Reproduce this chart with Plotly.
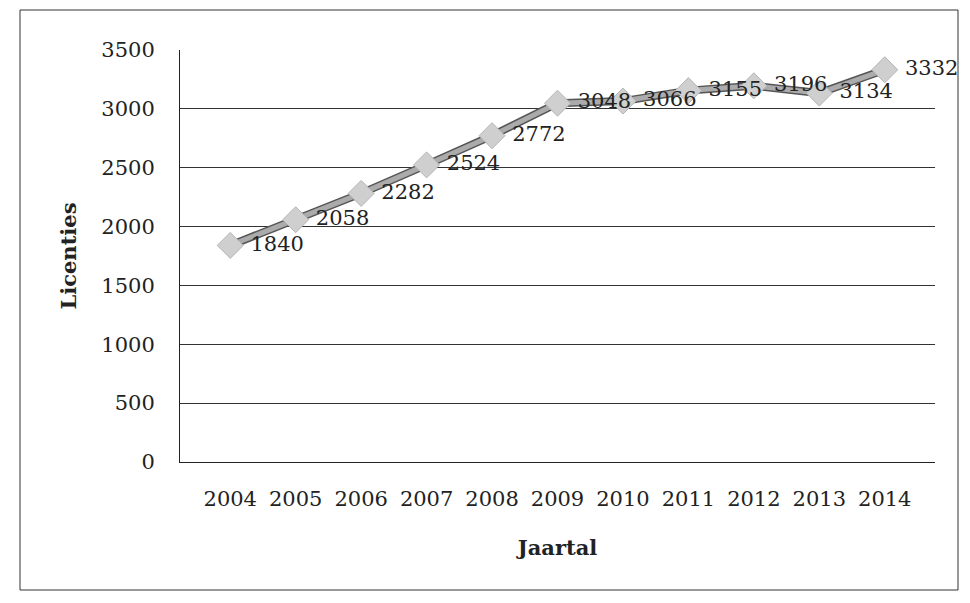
import plotly.graph_objects as go

years = ["2004", "2005", "2006", "2007", "2008", "2009", "2010", "2011", "2012", "2013", "2014"]
licenties = [1840, 2058, 2282, 2524, 2772, 3048, 3066, 3155, 3196, 3134, 3332]
y_ticks = [0, 500, 1000, 1500, 2000, 2500, 3000, 3500]

FONT = "DejaVu Serif"

fig = go.Figure()
fig.add_trace(go.Scatter(
    x=years, y=licenties, mode="lines",
    line=dict(color="#555555", width=8),
    hoverinfo="skip", showlegend=False,
))
fig.add_trace(go.Scatter(
    x=years, y=licenties, mode="lines+markers+text",
    line=dict(color="#ababab", width=5),
    marker=dict(symbol="diamond", size=20, color="#cfcfcf",
                line=dict(color="#b5b5b5", width=1)),
    text=[" " + str(v) for v in licenties],
    textposition="middle right",
    textfont=dict(family=FONT, size=21, color="#222222"),
    cliponaxis=False,
    showlegend=False,
))

PW, PH = 755, 412
L, T = 172, 42

fig.update_layout(
    width=962, height=595,
    margin=dict(l=L, r=962 - L - PW, t=T, b=595 - T - PH),
    paper_bgcolor="white", plot_bgcolor="white",
    font=dict(family=FONT, color="#222222"),
    xaxis=dict(
        type="category", showgrid=False,
        showline=True, linecolor="#222222", linewidth=1,
        ticks="", tickfont=dict(family=FONT, size=21),
        ticklabelstandoff=18,
        title=dict(text="<b>Jaartal</b>", font=dict(family=FONT, size=21), standoff=30),
    ),
    yaxis=dict(
        range=[0, 3500], tickvals=y_ticks,
        showgrid=True, gridcolor="#333333", gridwidth=1,
        showline=True, linecolor="#222222", linewidth=1,
        zeroline=False, ticks="",
        tickfont=dict(family=FONT, size=21),
        ticklabelstandoff=20,
        title=dict(text="<b>Licenties</b>", font=dict(family=FONT, size=21), standoff=18),
    ),
    shapes=[dict(type="rect", xref="paper", yref="paper",
                 x0=(12 - L) / PW, x1=(950 - L) / PW,
                 y0=(T + PH - 582) / PH, y1=(T + PH - 2) / PH,
                 line=dict(color="#333333", width=1))],
)

fig.write_html("out.html")
